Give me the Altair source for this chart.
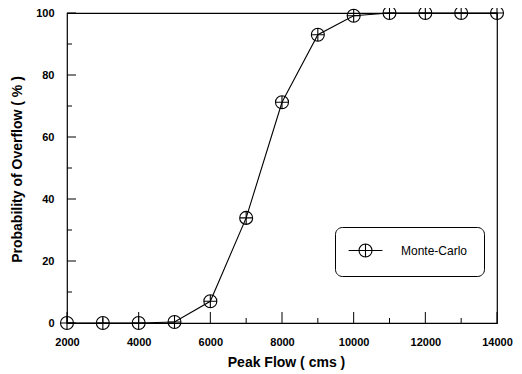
import altair as alt
import pandas as pd

# ---- data ----
peak_flow = [2000, 3000, 4000, 5000, 6000, 7000, 8000, 9000, 10000, 11000, 12000, 13000, 14000]
prob_overflow = [0.0, 0.0, 0.0, 0.3, 7.0, 33.9, 71.2, 93.0, 99.1, 100.0, 100.0, 100.0, 100.0]
series_name = "Monte-Carlo"

x_major_ticks = [2000, 4000, 6000, 8000, 10000, 12000, 14000]
x_minor_ticks = [3000, 5000, 7000, 9000, 11000, 13000]
y_major_ticks = [0, 20, 40, 60, 80, 100]
y_minor_ticks = [10, 30, 50, 70, 90]

W, H = 430, 310
FONT = "Liberation Sans"

df = pd.DataFrame({"flow": peak_flow, "prob": prob_overflow, "series": [series_name] * len(peak_flow)})

x_scale = alt.Scale(domain=[2000, 14000], nice=False, zero=False)
y_scale = alt.Scale(domain=[0, 100], nice=False)

marker_path = "M-1,0A1,1,0,1,1,1,0A1,1,0,1,1,-1,0M-1,0L1,0M0,-1L0,1"
legend_path = "M-2.6,0L-1,0M1,0L2.6,0M-1,0A1,1,0,1,1,1,0A1,1,0,1,1,-1,0M-1,0L1,0M0,-1L0,1"

x_axis = alt.Axis(
    values=x_major_ticks, format="d", ticks=False, tickSize=0, domain=False, grid=False,
    labelFlush=False, labelOverlap=False,
    labelFont=FONT, labelFontWeight="bold", labelFontSize=11, labelColor="black",
    labelPadding=13, labelBaseline="top",
    title="Peak Flow ( cms )", titleFont=FONT, titleFontWeight="bold", titleFontSize=14,
    titleColor="black", titleX=219, titleY=39, titleBaseline="middle", titleAlign="center",
)
y_axis = alt.Axis(
    values=y_major_ticks, ticks=False, tickSize=0, domain=False, grid=False,
    labelFlush=False, labelOverlap=False,
    labelFont=FONT, labelFontWeight="bold", labelFontSize=11, labelColor="black",
    labelPadding=13,
    title="Probability of Overflow ( % )", titleFont=FONT, titleFontWeight="bold",
    titleFontSize=14, titleColor="black", titleX=-50, titleY=156, titleAngle=-90,
    titleBaseline="middle", titleAlign="center",
)


def X():
    return alt.X("flow:Q", scale=x_scale, axis=x_axis)


def Y():
    return alt.Y("prob:Q", scale=y_scale, axis=y_axis)


base = alt.Chart(df)

line = base.mark_line(color="black", strokeWidth=1.1).encode(x=X(), y=Y())

points = base.mark_point(shape=marker_path, filled=False, size=169, strokeWidth=1.1, opacity=1).encode(
    x=X(), y=Y(),
    color=alt.Color(
        "series:N",
        scale=alt.Scale(range=["black"]),
        legend=alt.Legend(
            title=None, orient="none", legendX=268, legendY=214,
            symbolType=legend_path, symbolSize=169, symbolStrokeWidth=1.1,
            symbolStrokeColor="black", symbolFillColor="transparent",
            symbolOffset=7, labelOffset=28,
            labelFont=FONT, labelFontSize=12, labelColor="black",
            padding=16, strokeColor="black", cornerRadius=7, fillColor="white",
        ),
    ),
)

ymaj = alt.Chart(pd.DataFrame({"prob": y_major_ticks})).mark_rule(color="black", strokeWidth=1).encode(
    y=Y(), x=alt.value(0), x2=alt.value(9))
ymin = alt.Chart(pd.DataFrame({"prob": y_minor_ticks})).mark_rule(color="black", strokeWidth=1).encode(
    y=Y(), x=alt.value(0), x2=alt.value(5))
xmaj = alt.Chart(pd.DataFrame({"flow": x_major_ticks})).mark_rule(color="black", strokeWidth=1).encode(
    x=X(), y=alt.value(H), y2=alt.value(H - 11))
xmin = alt.Chart(pd.DataFrame({"flow": x_minor_ticks})).mark_rule(color="black", strokeWidth=1).encode(
    x=X(), y=alt.value(H), y2=alt.value(H - 5))

chart = alt.layer(line, points, ymaj, ymin, xmaj, xmin).properties(
    width=W, height=H,
    background="white",
    autosize=alt.AutoSizeParams(type="none"),
    padding={"left": 59, "top": 5, "right": 17, "bottom": 51},
).configure_view(stroke="black", strokeWidth=1.2)

chart.save("out.html", embed_options={"renderer": "svg", "actions": False})
